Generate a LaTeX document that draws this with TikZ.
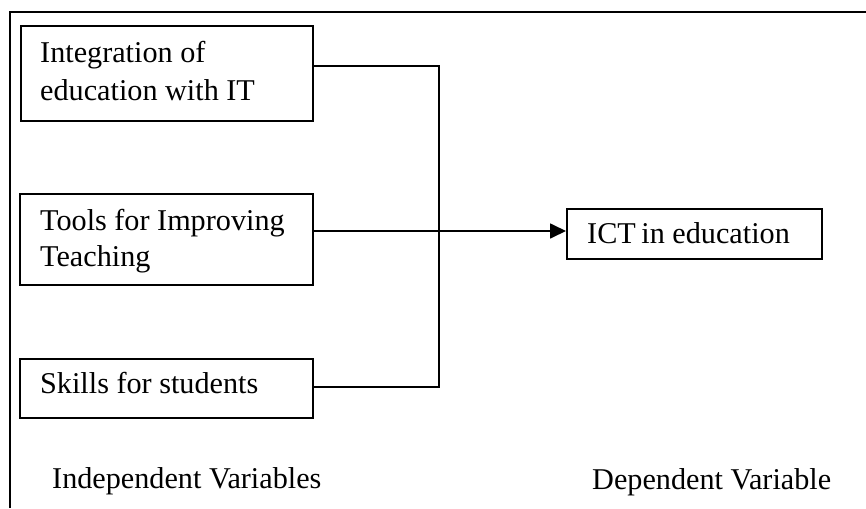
\documentclass[tikz,border=0pt]{standalone}
\usepackage{fontspec}
\setmainfont{Liberation Serif}
\usetikzlibrary{arrows.meta}
\begin{document}
\begin{tikzpicture}[x=1pt,y=-1pt,
  box/.style={draw, line width=1.8pt, anchor=north west, inner sep=0pt},
  lbl/.style={anchor=base west, inner sep=0pt, font=\fontsize{30.2}{36}\selectfont},
  conn/.style={line width=1.7pt},
  arr/.style={conn, -{Triangle[length=16pt,width=15pt]}}]
\useasboundingbox (0,0) rectangle (866,508);
\coordinate (fa) at (10,508);
\coordinate (fb) at (10,12);
\coordinate (fc) at (866,12);
\draw[line width=2pt] (fa) -- (fb) -- (fc);
% independent variable boxes
\node[box, minimum width=292pt, minimum height=95pt] (b1) at (20,25) {};
\node[box, minimum width=293pt, minimum height=91pt] (b2) at (19,193) {};
\node[box, minimum width=293pt, minimum height=59pt] (b3) at (19,358) {};
\node[lbl] (t1a) at (40,63) {Integration of};
\node[lbl] (t1b) at (40,100.5) {education with IT};
\node[lbl] (t2a) at (40,230) {Tools for Improving};
\node[lbl] (t2b) at (40,266) {Teaching};
\node[lbl] (t3) at (40,393) {Skills for students};
% dependent variable box
\node[box, minimum width=255pt, minimum height=50pt] (d) at (566,208) {};
\node[lbl] (td) at (587,243) {ICT\kern-2pt{} in education};
% captions
\node[lbl] (ci) at (52,488.5) {Independent Variables};
\node[lbl] (cd) at (592,489) {Dependent Variable};
% connectors
\coordinate (j1) at (439,66);
\coordinate (j3) at (439,387);
\coordinate (j2) at (439,231);
\draw[conn] (j1 -| b1.east) -- (j1) -- (j3) -- (j3 -| b3.east);
\draw[arr] (j2 -| b2.east) -- (j2 -| d.west);
\end{tikzpicture}
\end{document}
